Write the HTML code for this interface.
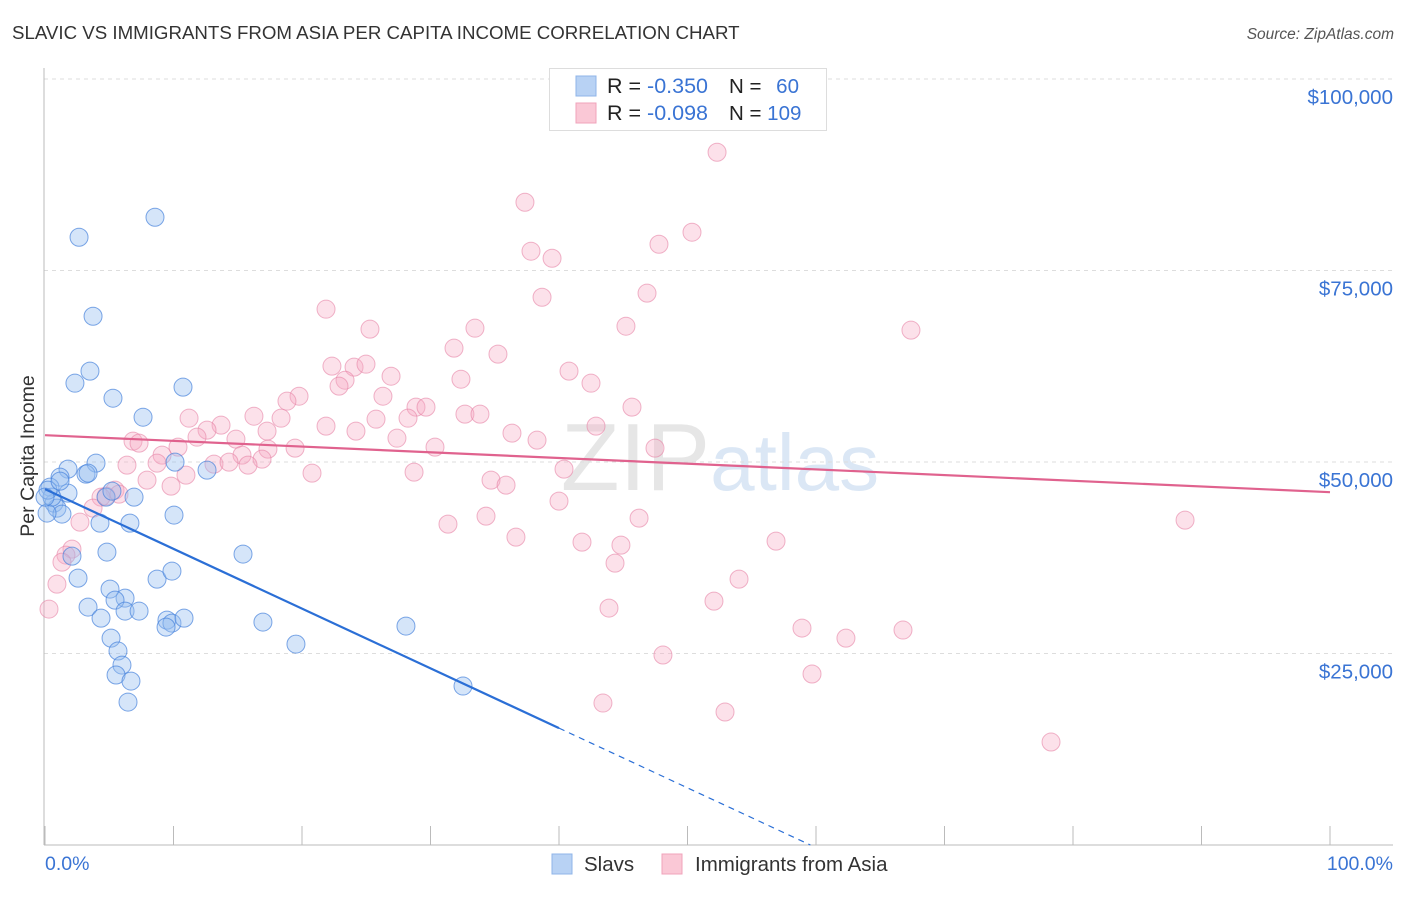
<!DOCTYPE html>
<html><head><meta charset="utf-8"><style>
body{margin:0;background:#fff;font-family:"Liberation Sans",sans-serif;}
svg text{font-family:"Liberation Sans",sans-serif;}
</style></head><body>
<svg id="chart" width="1406" height="892" xmlns="http://www.w3.org/2000/svg">
<text x="12" y="39" font-size="18.7" fill="#333">SLAVIC VS IMMIGRANTS FROM ASIA PER CAPITA INCOME CORRELATION CHART</text>
<text x="1394" y="39" font-size="15.5" fill="#555" text-anchor="end" font-style="italic">Source: ZipAtlas.com</text>
<text x="720" y="490" font-size="96" text-anchor="middle" fill="#e6e6e6" font-family="Liberation Serif">ZIP<tspan fill="#dbe7f5" font-family="Liberation Sans" font-size="80">atlas</tspan></text>
<g id="grid"></g>
<g id="axes"></g>
<g id="pts"></g>
<g id="trend"></g>
<text transform="translate(34,456) rotate(-90)" font-size="19.5" fill="#333" text-anchor="middle">Per Capita Income</text>
<g>
<rect x="549.5" y="68.5" width="277" height="62" fill="#fff" stroke="#ddd"/>
<rect x="576" y="76" width="20" height="20" fill="#b8d2f4" stroke="#8fb4e8"/>
<rect x="576" y="103" width="20" height="20" fill="#fac8d6" stroke="#f0a3bb"/>
<text x="607" y="93" font-size="21.5" fill="#222">R = <tspan fill="#3a74d4">-0.350</tspan></text>
<text x="729" y="93" font-size="20.5" fill="#222">N = <tspan fill="#3a74d4" dx="9">60</tspan></text>
<text x="607" y="120" font-size="21.5" fill="#222">R = <tspan fill="#3a74d4">-0.098</tspan></text>
<text x="729" y="120" font-size="20.5" fill="#222">N = <tspan fill="#3a74d4">109</tspan></text>
</g>
<g>
<rect x="552" y="854" width="20" height="20" fill="#b8d2f4" stroke="#8fb4e8"/>
<text x="584" y="871" font-size="20.5" fill="#333">Slavs</text>
<rect x="662" y="854" width="20" height="20" fill="#fac8d6" stroke="#f0a3bb"/>
<text x="695" y="871" font-size="20.5" fill="#333">Immigrants from Asia</text>
</g>
</svg>
<script>
const yTicks=[25000,50000,75000,100000];
const yTickLabels=["$25,000","$50,000","$75,000","$100,000"];
const xTicks=[0,10,20,30,40,50,60,70,80,90,100];
const slavX=[8.56,2.65,3.74,3.50,2.33,10.74,5.29,7.63,3.97,10.12,1.79,3.19,1.17,0.39,1.79,6.93,4.75,0.70,0.93,1.32,0.16,4.28,6.61,10.04,12.61,4.82,15.41,2.10,2.57,8.72,9.88,3.35,5.06,6.23,5.45,6.23,7.32,4.36,9.49,9.88,10.82,9.42,16.96,28.09,5.14,19.53,5.68,5.99,5.53,6.69,6.46,32.53,0.54,0.23,1.17,3.35,0.0,5.21];
const slavY=[81950,79340,69030,61860,60290,59770,58330,55850,49850,49980,49070,48420,48020,46720,45940,45410,45410,44630,43980,43200,43330,42020,42020,43070,48940,38240,37980,37710,34840,34710,35760,31060,33410,32230,31970,30540,30540,29620,29360,28970,29620,28450,29100,28580,27010,26230,25320,23490,22190,21400,18660,20750,45410,46330,47500,48550,45410,46200];
const asiaX=[52.30,37.35,37.82,39.46,47.78,50.35,38.68,46.85,21.87,25.29,33.46,45.21,67.39,31.83,35.25,22.33,24.05,24.98,26.93,23.35,22.88,40.78,42.49,32.37,26.30,19.77,18.83,45.68,28.87,29.65,32.68,33.85,28.25,25.76,18.37,11.21,16.26,13.70,12.61,21.87,42.88,24.20,36.34,17.28,11.83,14.86,6.85,7.32,10.35,38.29,27.39,19.46,30.35,47.47,17.35,9.11,15.33,16.89,8.72,6.38,13.15,14.32,15.80,20.78,40.39,28.72,10.97,7.94,9.81,34.71,35.88,5.45,4.75,5.76,4.36,40.00,34.32,46.23,31.36,3.74,2.72,36.65,41.79,44.82,56.89,2.10,1.63,1.32,0.93,0.31,44.36,54.01,52.06,43.89,58.91,62.33,66.77,48.09,59.69,43.42,52.92,78.29,88.72];
const asiaY=[90440,83910,77520,76600,78430,80000,71510,72040,69950,67340,67470,67730,67210,64860,64080,62510,62380,62770,61200,60680,59900,61860,60290,60810,58590,58590,57940,57160,57160,57160,56250,56250,55720,55590,55720,55720,55980,54810,54160,54680,54680,54030,53770,54030,53240,52980,52720,52460,51940,52850,53110,51810,51940,51810,51680,50900,50900,50370,49850,49590,49720,49980,49590,48550,49070,48680,48290,47630,46850,47630,46980,46330,45540,45810,45410,44890,42930,42670,41890,43980,42150,40190,39540,39150,39670,38630,37850,36930,34060,30800,36800,34710,31840,30930,28320,27010,28060,24800,22320,18530,17360,13440,42410];
const slavTrend=[46460,-780];
const asiaTrend=[53500,-74.4];
const NS="http://www.w3.org/2000/svg";
const X=v=>45+v*12.85;
const Y=v=>845-v/25000*191.5;
function mk(tag,attrs,parent){const e=document.createElementNS(NS,tag);for(const k in attrs)e.setAttribute(k,attrs[k]);parent.appendChild(e);return e;}
const grid=document.getElementById('grid'),axes=document.getElementById('axes'),pts=document.getElementById('pts'),trend=document.getElementById('trend');
yTicks.forEach((t,i)=>{
 const l=mk('line',{x1:44,x2:1393,y1:Y(t),y2:Y(t),stroke:'#ddd','stroke-dasharray':'4,4'},grid);
 
 
 const tx=mk('text',{x:1393,y:Y(t)+25,'font-size':20.5,fill:'#3a74d4','text-anchor':'end'},axes);
 tx.textContent=yTickLabels[i];
 
 
});
mk('line',{x1:44,x2:44,y1:68,y2:845,stroke:'#bbb'},axes);
mk('line',{x1:44,x2:1393,y1:845,y2:845,stroke:'#bbb'},axes);
xTicks.forEach(t=>{
 const l=mk('line',{x1:X(t),x2:X(t),y1:826,y2:845,stroke:'#bbb'},axes);
 
 
});
const x0=mk('text',{x:45,y:870,'font-size':19.5,fill:'#3a74d4'},axes);x0.textContent='0.0%';


const x1=mk('text',{x:1393,y:870,'font-size':19.5,fill:'#3a74d4','text-anchor':'end'},axes);x1.textContent='100.0%';


asiaX.forEach((x,i)=>{
 const c=mk('circle',{cx:X(x),cy:Y(asiaY[i]),r:9,fill:'rgba(246,170,194,0.35)',stroke:'rgba(230,130,165,0.6)','stroke-width':1},pts);
 
 
});
slavX.forEach((x,i)=>{
 const c=mk('circle',{cx:X(x),cy:Y(slavY[i]),r:9,fill:'rgba(150,190,240,0.4)',stroke:'rgba(70,130,220,0.7)','stroke-width':1},pts);
 
 
});
const sv=x=>slavTrend[0]+slavTrend[1]*x;
const s1=mk('line',{x1:X(0),y1:Y(sv(0)),x2:X(40),y2:Y(sv(40)),stroke:'#2b6fd6','stroke-width':2.2},trend);


const xEnd=-slavTrend[0]/slavTrend[1];
const s2=mk('line',{x1:X(40),y1:Y(sv(40)),x2:X(xEnd),y2:Y(0),stroke:'#2b6fd6','stroke-width':1.2,'stroke-dasharray':'6,5'},trend);


const av=x=>asiaTrend[0]+asiaTrend[1]*x;
const a1=mk('line',{x1:X(0),y1:Y(av(0)),x2:X(100),y2:Y(av(100)),stroke:'#e0628e','stroke-width':2.2},trend);


</script>
</body></html>
